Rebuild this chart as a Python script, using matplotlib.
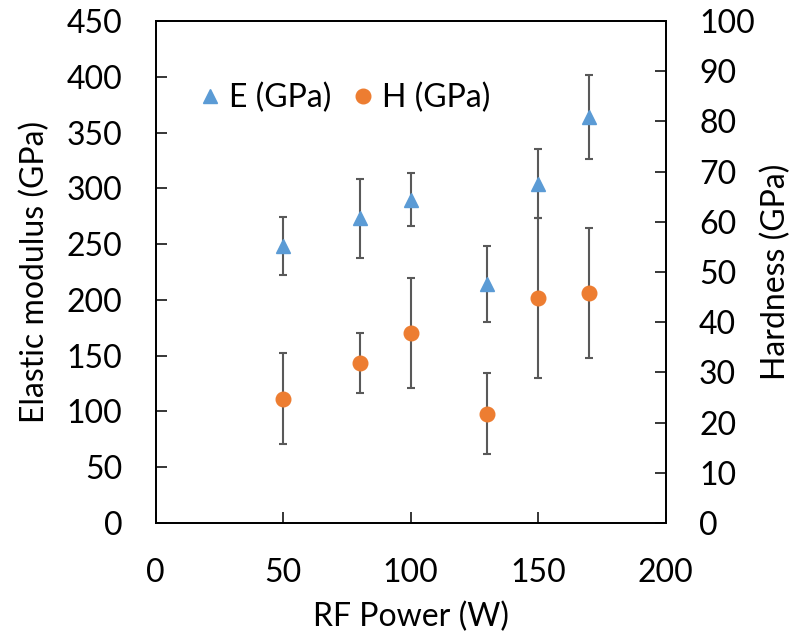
import numpy as np
import matplotlib.pyplot as plt

plt.rcParams['font.family'] = ['Lato', 'DejaVu Sans']

# RF power (W)
power = [50, 80, 100, 130, 150, 170]

# Elastic modulus (GPa) with error
e_mod = [248, 273, 290, 214, 304, 364]
e_err = [26, 35, 24, 34, 31, 38]

# Hardness (GPa) with error
hard = [24.8, 31.8, 37.8, 21.8, 44.8, 45.8]
h_err = [9, 6, 11, 8, 16, 13]

blue = '#5B9BD5'
orange = '#ED7D31'
err_col = '#595959'

fig = plt.figure(figsize=(7.95, 6.41), dpi=100)
ax1 = fig.add_axes([0.1958, 0.1841, 0.6416, 0.7831])
ax2 = ax1.twinx()

ax1.errorbar(power, e_mod, yerr=e_err, fmt='^', color=blue, markersize=10,
             ecolor=err_col, elinewidth=1.5, capsize=3, capthick=1.5,
             label='E (GPa)', zorder=3)
ax2.errorbar(power, hard, yerr=h_err, fmt='o', color=orange, markersize=10.5,
             ecolor=err_col, elinewidth=1.5, capsize=3, capthick=1.5,
             label='H (GPa)', zorder=3)

ax1.set_xlim(0, 200)
ax1.set_ylim(0, 450)
ax2.set_ylim(0, 100)
ax1.set_xticks(np.arange(0, 201, 50))
ax1.set_yticks(np.arange(0, 451, 50))
ax2.set_yticks(np.arange(0, 101, 10))

fs = 23
for ax in (ax1, ax2):
    ax.tick_params(direction='in', length=8, width=1.1, labelsize=fs,
                   color='black')
    for s in ax.spines.values():
        s.set_linewidth(1.3)
ax1.tick_params(axis='x', pad=25)
ax1.tick_params(axis='y', pad=24)
ax2.tick_params(axis='y', pad=24)

ax1.set_xlabel('RF Power (W)', fontsize=fs, labelpad=10)
ax1.set_ylabel('Elastic modulus (GPa)', fontsize=fs, labelpad=12)
ax2.set_ylabel('Hardness (GPa)', fontsize=fs, labelpad=4)

h1, l1 = ax1.get_legend_handles_labels()
h2, l2 = ax2.get_legend_handles_labels()
handles = [h[0] for h in h1 + h2]
ax1.legend(handles, l1 + l2, loc='center left', bbox_to_anchor=(0.081, 0.847),
           ncol=2, frameon=False, fontsize=fs, borderpad=0, borderaxespad=0,
           handletextpad=0.2, columnspacing=0.6, handlelength=0.8)

fig.savefig('out.png', dpi=100)
